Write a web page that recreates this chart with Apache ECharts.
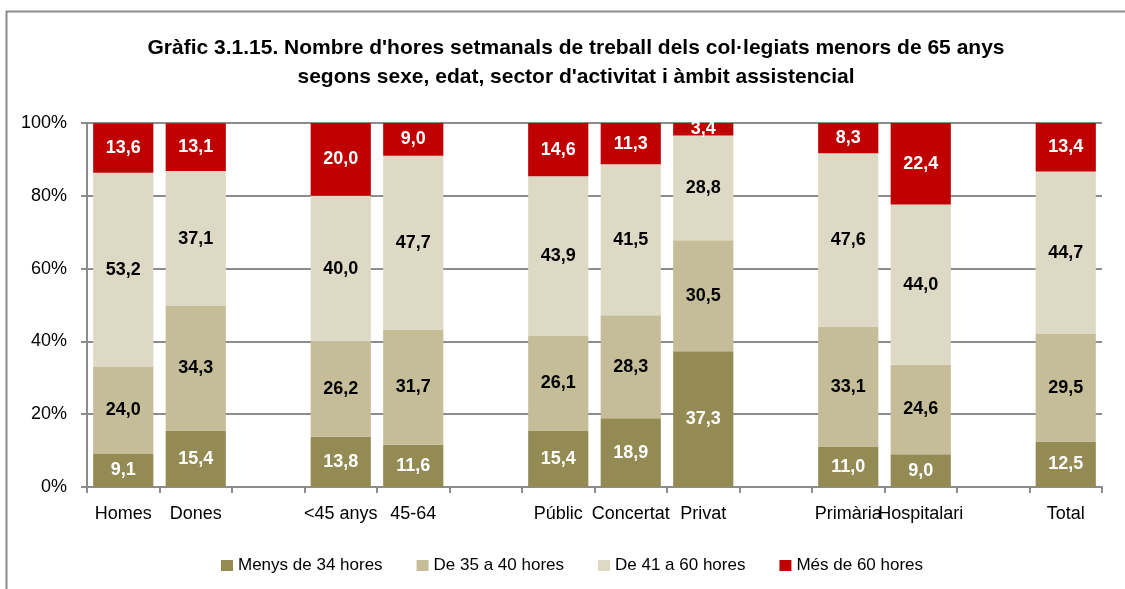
<!DOCTYPE html>
<html>
<head>
<meta charset="utf-8">
<script src="https://cdn.jsdelivr.net/npm/echarts@6/dist/echarts.min.js"></script>
<style>
  html, body { margin: 0; padding: 0; background: #fff; }
  #chart { width: 1125px; height: 589px; }
</style>
</head>
<body>
<div id="chart"></div>
<script>
// categories (empty strings are the gaps between groups)
const categories = ['Homes', 'Dones', '', '<45 anys', '45-64', '', 'Públic', 'Concertat', 'Privat', '', 'Primària', 'Hospitalari', '', 'Total']
const seriesNames = ['Menys de 34 hores', 'De 35 a 40 hores', 'De 41 a 60 hores', 'Més de 60 hores']
const menys34 = [9.1, 15.4, '-', 13.8, 11.6, '-', 15.4, 18.9, 37.3, '-', 11.0, 9.0, '-', 12.5]
const de35a40 = [24.0, 34.3, '-', 26.2, 31.7, '-', 26.1, 28.3, 30.5, '-', 33.1, 24.6, '-', 29.5]
const de41a60 = [53.2, 37.1, '-', 40.0, 47.7, '-', 43.9, 41.5, 28.8, '-', 47.6, 44.0, '-', 44.7]
const mes60 = [13.6, 13.1, '-', 20.0, 9.0, '-', 14.6, 11.3, 3.4, '-', 8.3, 22.4, '-', 13.4]
const yTicks = [0, 20, 40, 60, 80, 100]

const FONT = "'Liberation Sans', Arial, sans-serif"
const colors = ['#948a54', '#c4bd97', '#ddd9c4', '#c00000']
const labelColors = ['#ffffff', '#000000', '#000000', '#ffffff']
const allData = [menys34, de35a40, de41a60, mes60]

const chart = echarts.init(document.getElementById('chart'))

const series = allData.map((d, i) => {
  return {
    name: seriesNames[i],
    type: 'bar',
    stack: 'total',
    barCategoryGap: '17%',
    data: d,
    itemStyle: { color: colors[i] },
    label: {
      show: true,
      position: 'inside',
      color: labelColors[i],
      fontFamily: FONT,
      fontWeight: 'bold',
      fontSize: 18,
      formatter: p => Number(p.value).toFixed(1).replace('.', ','),
    },
  }
})

const option = {
  animation: false,
  color: colors,
  title: {
    text: "Gràfic 3.1.15. Nombre d'hores setmanals de treball dels col·legiats menors de 65 anys\nsegons sexe, edat, sector d'activitat i àmbit assistencial",
    left: 571,
    textAlign: 'center',
    top: 29,
    textStyle: {
      fontFamily: FONT,
      fontWeight: 'bold',
      fontSize: 21,
      lineHeight: 29,
      color: '#000',
    },
  },
  graphic: [
    {
      type: 'rect',
      left: 4,
      top: 9,
      shape: { width: 1200, height: 700 },
      style: { fill: 'none', stroke: '#8c8c8c', lineWidth: 2 },
      silent: true,
    },
  ],
  legend: {
    data: seriesNames,
    left: 216,
    top: 552,
    icon: 'rect',
    itemWidth: 12,
    itemHeight: 11,
    itemGap: 34,
    textStyle: { fontFamily: FONT, fontSize: 17, color: '#000' },
  },
  grid: { left: 87, right: 23, top: 123, bottom: 102, containLabel: false },
  xAxis: {
    type: 'category',
    data: categories,
    axisLine: { lineStyle: { color: '#8c8c8c', width: 2 } },
    axisTick: { show: true, interval: 0, length: 6, lineStyle: { color: '#8c8c8c', width: 2 } },
    axisLabel: { interval: 0, color: '#000', fontFamily: FONT, fontSize: 18, margin: 18 },
  },
  yAxis: {
    type: 'value',
    min: yTicks[0],
    max: yTicks[yTicks.length - 1],
    interval: 20,
    axisLine: { show: true, lineStyle: { color: '#8c8c8c', width: 2 } },
    axisTick: { show: true, length: 6, lineStyle: { color: '#8c8c8c', width: 2 } },
    axisLabel: { color: '#000', fontFamily: FONT, fontSize: 18, margin: 20, formatter: '{value}%' },
    splitLine: { lineStyle: { color: '#8c8c8c', width: 2 } },
  },
  series: series,
}
chart.setOption(option)
</script>
</body>
</html>
